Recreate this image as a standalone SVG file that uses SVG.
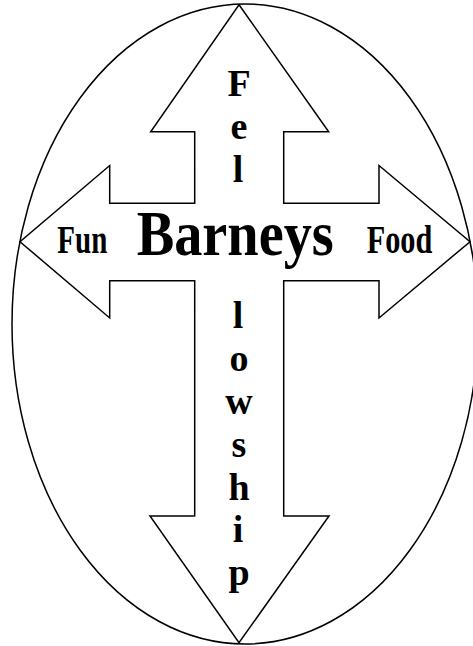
<svg xmlns="http://www.w3.org/2000/svg" width="473" height="646" viewBox="0 0 473 646">
<style>
.ln{fill:none;stroke:#000;stroke-width:1.5}
.sh{fill:#fff;stroke:#000;stroke-width:1.5;stroke-linejoin:miter}
.t{font-family:"Liberation Serif","Times New Roman",serif;font-weight:bold;fill:#000}
.v{font-size:38px;text-anchor:middle}
</style>
<rect width="473" height="646" fill="#fff"/>
<g id="oval">
<ellipse class="ln" cx="245" cy="324" rx="233" ry="320"/>
</g>
<g id="cross">
<polygon class="sh" points="239,4.7 328.7,131.7 283.7,131.7 283.7,203.3 379,203.3 379,165.5 470,241.7 379,318 379,280.7 283.7,280.7 283.7,516 329,516 239,642.7 150,516 194.7,516 194.7,280.7 109.7,280.7 109.7,318 20,241.7 109.7,165.5 109.7,203.3 194.7,203.3 194.7,131.7 150.7,131.7"/>
</g>
<g id="labels">
<text class="t" x="57.3" y="253" font-size="40" textLength="50" lengthAdjust="spacingAndGlyphs">Fun</text>
<text class="t" x="136.7" y="255" font-size="64" textLength="197" lengthAdjust="spacingAndGlyphs">Barneys</text>
<text class="t" x="366.7" y="253" font-size="40" textLength="65.6" lengthAdjust="spacingAndGlyphs">Food</text>
</g>
<g id="fellowship">
<text class="t v" x="239" y="96">F</text>
<text class="t v" x="239" y="139">e</text>
<text class="t v" x="238" y="182">l</text>
<text class="t v" x="238" y="328">l</text>
<text class="t v" x="239" y="371">o</text>
<text class="t v" x="239" y="414">w</text>
<text class="t v" x="239" y="457">s</text>
<text class="t v" x="239" y="500">h</text>
<text class="t v" x="238" y="542">i</text>
<text class="t v" x="239" y="585">p</text>
</g>
</svg>
